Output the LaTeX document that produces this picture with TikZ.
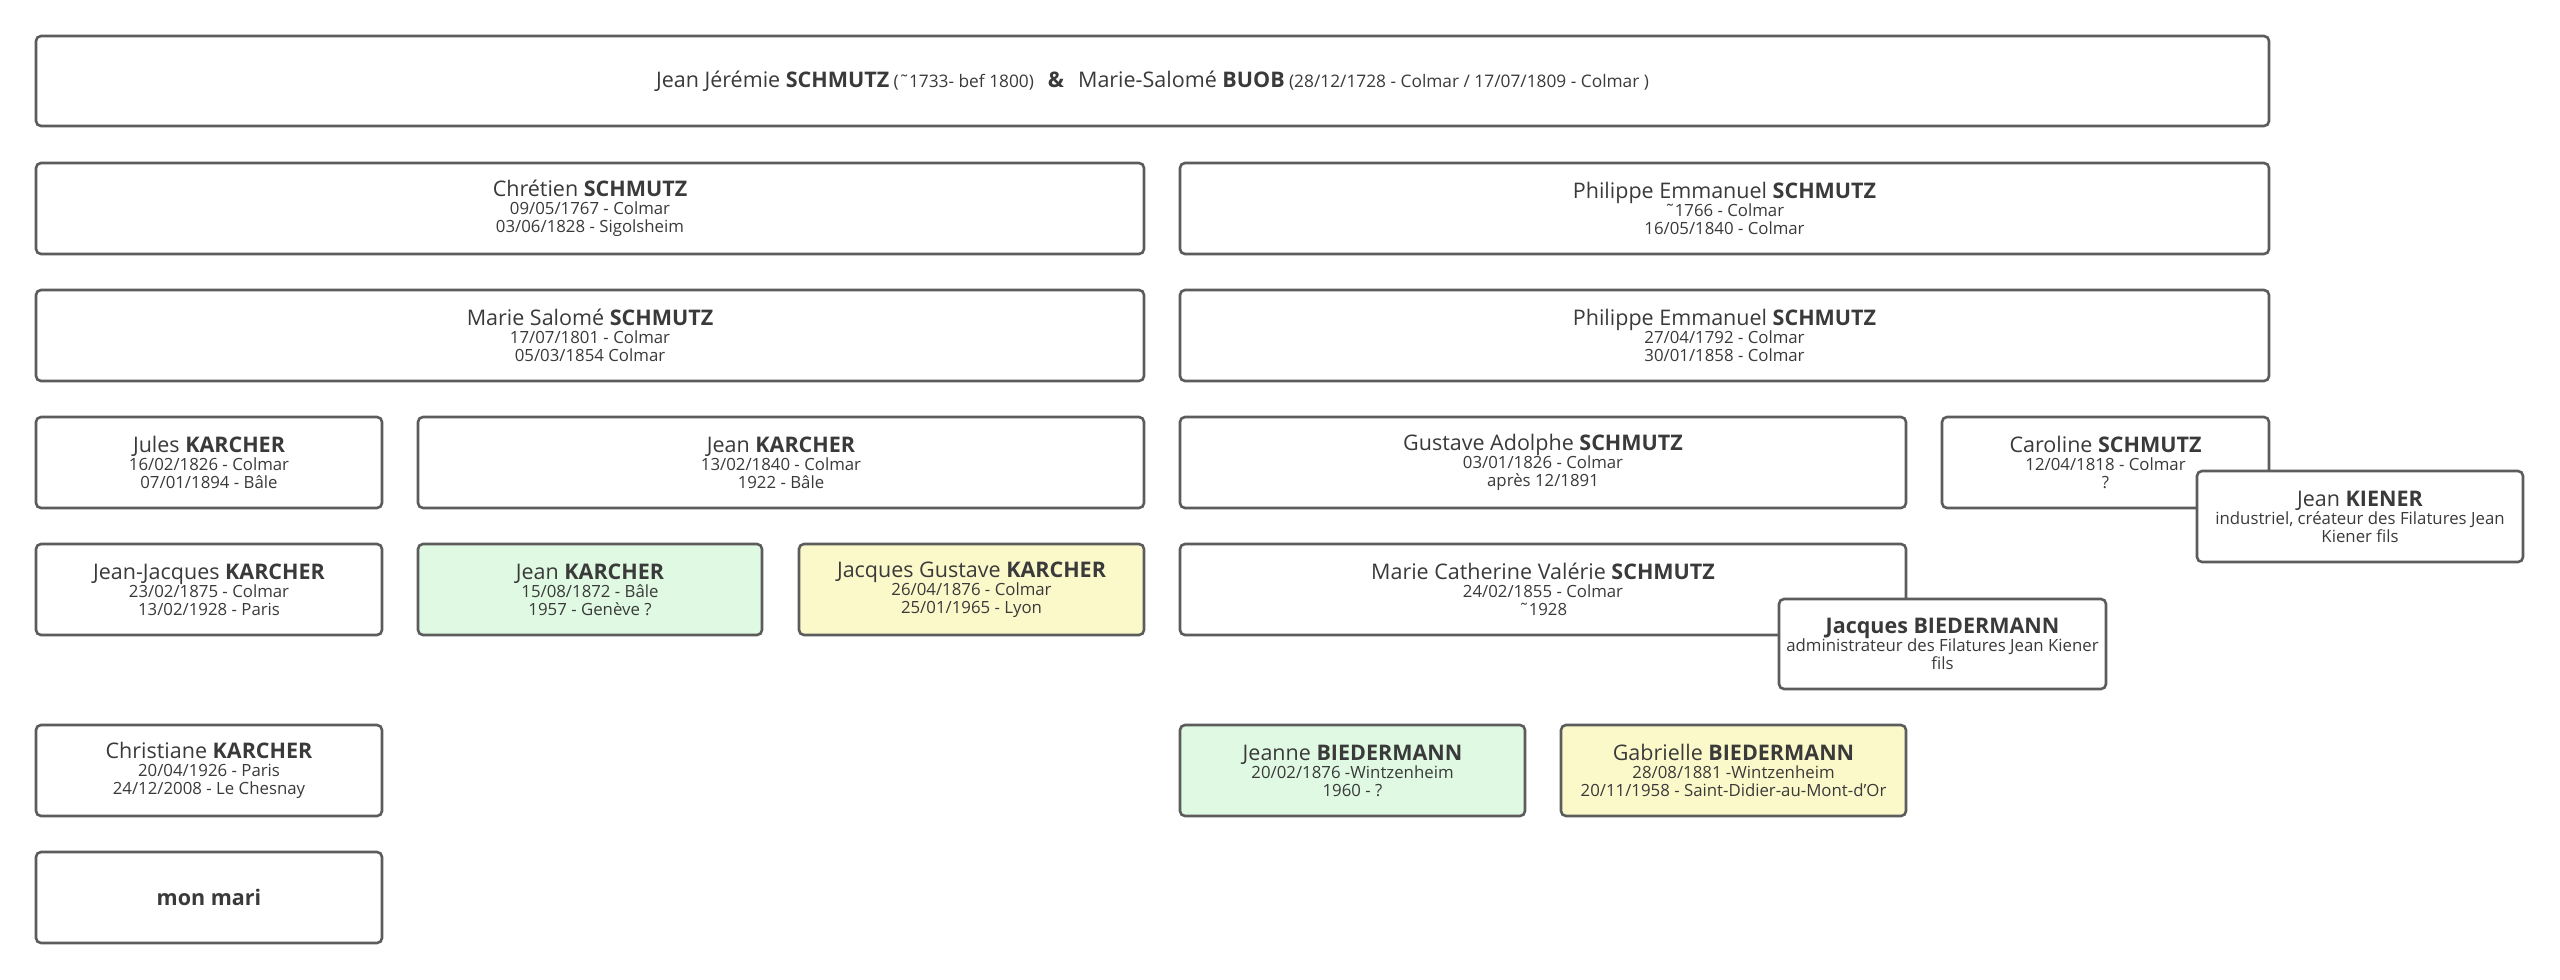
\documentclass[tikz,border=0pt]{standalone}
\usepackage{fontspec}
\setmainfont{Open Sans}
\definecolor{txt}{HTML}{3A3A3A}
\definecolor{edge}{HTML}{5C5C5C}
\definecolor{greenfill}{HTML}{DFF9E2}
\definecolor{yellowfill}{HTML}{FBF9CA}
\newcommand\nm[1]{{\fontsize{21.5}{18}\selectfont #1}}
\newcommand\sm[1]{{\fontsize{17.3}{18}\selectfont #1}}
\tikzset{
  pbox/.style={draw=edge, line width=2.6pt, rounded corners=5pt, fill=white,
    align=center, text=txt, inner sep=0pt, font=\fontsize{16.8}{18}\selectfont},
  green/.style={fill=greenfill},
  yellow/.style={fill=yellowfill}
}
\begin{document}
\begin{tikzpicture}[x=1pt,y=-1pt]
\useasboundingbox[fill=white] (0,0) rectangle (2560,980);
% row 1
\node[pbox, minimum width=2233pt, minimum height=90pt] (root) at (1152.5,81)
  {\nm{Jean Jérémie \textbf{SCHMUTZ}} \sm{(˜1733- bef 1800)}\hspace{14pt}\nm{\textbf{\&}}\hspace{14pt}\nm{Marie-Salomé \textbf{BUOB}} \sm{(28/12/1728 - Colmar / 17/07/1809 - Colmar )}};
% row 2
\node[pbox, minimum width=1108pt, minimum height=91pt] (chretien) at (590,208.5)
  {\nm{Chrétien \textbf{SCHMUTZ}}\\09/05/1767 - Colmar\\03/06/1828 - Sigolsheim};
\node[pbox, minimum width=1089pt, minimum height=91pt] (philippe1) at (1724.5,208.5)
  {\nm{Philippe Emmanuel \textbf{SCHMUTZ}}\\˜1766 - Colmar\\16/05/1840 - Colmar};
% row 3
\node[pbox, minimum width=1108pt, minimum height=91pt] (mariesalome) at (590,335.5)
  {\nm{Marie Salomé \textbf{SCHMUTZ}}\\17/07/1801 - Colmar\\05/03/1854 Colmar};
\node[pbox, minimum width=1089pt, minimum height=91pt] (philippe2) at (1724.5,335.5)
  {\nm{Philippe Emmanuel \textbf{SCHMUTZ}}\\27/04/1792 - Colmar\\30/01/1858 - Colmar};
% row 4
\node[pbox, minimum width=346pt, minimum height=91pt] (jules) at (209,462.5)
  {\nm{Jules \textbf{KARCHER}}\\16/02/1826 - Colmar\\07/01/1894 - Bâle};
\node[pbox, minimum width=726pt, minimum height=91pt] (jean1) at (781,462.5)
  {\nm{Jean \textbf{KARCHER}}\\13/02/1840 - Colmar\\1922 - Bâle};
\node[pbox, minimum width=726pt, minimum height=91pt] (gustave) at (1543,462.5)
  {\nm{Gustave Adolphe \textbf{SCHMUTZ}}\\03/01/1826 - Colmar\\après 12/1891};
\node[pbox, minimum width=327pt, minimum height=91pt] (caroline) at (2105.5,462.5)
  {\nm{Caroline \textbf{SCHMUTZ}}\\12/04/1818 - Colmar\\?};
\node[pbox, minimum width=326pt, minimum height=91pt] (kiener) at (2360,516.5)
  {\nm{Jean \textbf{KIENER}}\\industriel, créateur des Filatures Jean\\Kiener fils};
% row 5
\node[pbox, minimum width=346pt, minimum height=91pt] (jeanjacques) at (209,589.5)
  {\nm{Jean-Jacques \textbf{KARCHER}}\\23/02/1875 - Colmar\\13/02/1928 - Paris};
\node[pbox, green, minimum width=344pt, minimum height=91pt] (jean2) at (590,589.5)
  {\nm{Jean \textbf{KARCHER}}\\15/08/1872 - Bâle\\1957 - Genève ?};
\node[pbox, yellow, minimum width=345pt, minimum height=91pt] (jacquesg) at (971.5,589.5)
  {\nm{Jacques Gustave \textbf{KARCHER}}\\26/04/1876 - Colmar\\25/01/1965 - Lyon};
\node[pbox, minimum width=726pt, minimum height=91pt] (mariecath) at (1543,589.5)
  {\nm{Marie Catherine Valérie \textbf{SCHMUTZ}}\\24/02/1855 - Colmar\\˜1928};
\node[pbox, minimum width=327pt, minimum height=90pt] (biedermann) at (1942.5,644)
  {\nm{\textbf{Jacques BIEDERMANN}}\\administrateur des Filatures Jean Kiener\\fils};
% row 6
\node[pbox, minimum width=346pt, minimum height=91pt] (christiane) at (209,770.5)
  {\nm{Christiane \textbf{KARCHER}}\\20/04/1926 - Paris\\24/12/2008 - Le Chesnay};
\node[pbox, green, minimum width=345pt, minimum height=91pt] (jeanne) at (1352.5,770.5)
  {\nm{Jeanne \textbf{BIEDERMANN}}\\20/02/1876 -Wintzenheim\\1960 - ?};
\node[pbox, yellow, minimum width=345pt, minimum height=91pt] (gabrielle) at (1733.5,770.5)
  {\nm{Gabrielle \textbf{BIEDERMANN}}\\28/08/1881 -Wintzenheim\\20/11/1958 - Saint-Didier-au-Mont-d'Or};
% row 7
\node[pbox, minimum width=346pt, minimum height=91pt] (monmari) at (209,897.5)
  {\nm{\textbf{mon mari}}};
\end{tikzpicture}
\end{document}
